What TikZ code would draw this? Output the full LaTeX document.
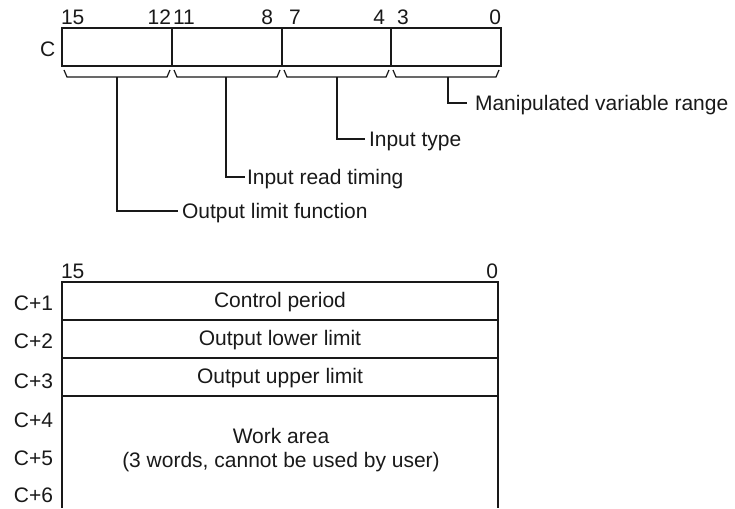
\documentclass[tikz,border=0pt]{standalone}
\usepackage{fontspec}
\setmainfont{Liberation Sans}
\begin{document}
\begin{tikzpicture}[x=1pt,y=-1pt,
  every node/.style={font=\fontsize{21}{25}\selectfont, inner sep=0pt, outer sep=0pt, text=black!90},
  outer/.style={draw=black!90, line width=2.2pt},
  divider/.style={draw=black!90, line width=1.4pt},
  leader/.style={draw=black!90, line width=1.2pt},
  tableline/.style={draw=black!90, line width=1.8pt},
  rowbox/.style={tableline, minimum width=436pt, minimum height=38pt, anchor=north west, text height=15pt, text depth=3pt},
  bitnum/.style={anchor=base west},
  bitnumr/.style={anchor=base east},
  lbl/.style={anchor=base west}]
\useasboundingbox (0,0) rectangle (735,508);

% ---- word C ----
\node[outer, minimum width=439pt, minimum height=38pt, anchor=north west] (w) at (62,28) {};
\node[bitnum] (wc) at (40,57) {C};
\coordinate (d1t) at (172,28); \coordinate (d1b) at (172,66);
\coordinate (d2t) at (282,28); \coordinate (d2b) at (282,66);
\coordinate (d3t) at (391,28); \coordinate (d3b) at (391,66);
\draw[divider] (d1t) -- (d1b);
\draw[divider] (d2t) -- (d2b);
\draw[divider] (d3t) -- (d3b);

\node[bitnum]  (n15) at (61,25) {15};
\node[bitnumr] (n12) at (171,25) {12};
\node[bitnum]  (n11) at (173,25) {11};
\node[bitnumr] (n8)  at (273,25) {8};
\node[bitnum]  (n7)  at (289,25) {7};
\node[bitnumr] (n4)  at (385,25) {4};
\node[bitnum]  (n3)  at (397,25) {3};
\node[bitnumr] (n0)  at (501,25) {0};

% braces
\foreach \a/\b in {62/172,172/282,282/391,391/501}{
  \draw[leader] (\a+2,70) -- (\a+5,77) -- (\b-5,77) -- (\b-2,70);
}
\coordinate (b1) at (117,77);
\coordinate (b2) at (226,77);
\coordinate (b3) at (337,77);
\coordinate (b4) at (448,77);

\coordinate (e4) at (467,103);
\coordinate (e3) at (365,139);
\coordinate (e2) at (245,177);
\coordinate (e1) at (178,211);
\node[lbl] (t4) at (475,110.5) {Manipulated variable range};
\node[lbl] (t3) at (369,146.5) {Input type};
\node[lbl] (t2) at (247,184.5) {Input read timing};
\node[lbl] (t1) at (182,218.5) {Output limit function};
\draw[leader] (b4) |- (e4);
\draw[leader] (b3) |- (e3);
\draw[leader] (b2) |- (e2);
\draw[leader] (b1) |- (e1);

% ---- words C+1 .. C+6 ----
\node[bitnum]  (m15) at (61,278) {15};
\node[bitnumr] (m0)  at (498,278) {0};

\node[rowbox] (r1) at (62,282) {Control period};
\node[rowbox] (r2) at (62,320) {Output lower limit};
\node[rowbox] (r3) at (62,358) {Output upper limit};
\coordinate (wl) at (62,508);
\coordinate (wr) at (498,508);
\coordinate (wk) at (62,433);
\draw[tableline] (r3.south west) -- (wl);
\draw[tableline] (r3.south east) -- (wr);
\draw[draw=black!90, line width=2.6pt] (r3.south west) -- (wk);
\node[anchor=base] (wa1) at (281,443) {Work area};
\node[anchor=base] (wa2) at (281,467) {(3 words, cannot be used by user)};

\node[bitnumr] (c1) at (53,310) {C+1};
\node[bitnumr] (c2) at (53,348) {C+2};
\node[bitnumr] (c3) at (53,388) {C+3};
\node[bitnumr] (c4) at (53,427) {C+4};
\node[bitnumr] (c5) at (53,465) {C+5};
\node[bitnumr] (c6) at (53,502) {C+6};
\end{tikzpicture}
\end{document}
